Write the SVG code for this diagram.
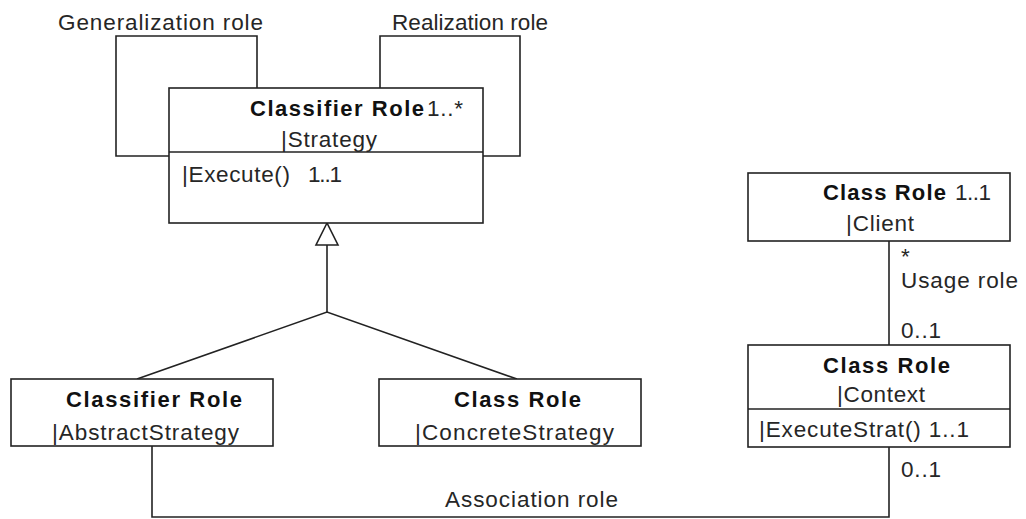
<svg xmlns="http://www.w3.org/2000/svg" width="1026" height="519" viewBox="0 0 1026 519">
  <style>
    .box { fill: #ffffff; stroke: #222222; stroke-width: 1.6; }
    .div { stroke: #222222; stroke-width: 1.6; }
    .wire { fill: none; stroke: #222222; stroke-width: 1.6; }
    .t { font-family: "Liberation Sans", Arial, sans-serif; font-size: 22.5px; fill: #262626; }
    .b { font-family: "Liberation Sans", Arial, sans-serif; font-size: 22px; font-weight: bold; fill: #111111; }
  </style>
  <rect width="1026" height="519" fill="#ffffff"/>

  <!-- connectors -->
  <g id="connectors">
    <!-- self loops on the Strategy role -->
    <polyline class="wire" points="257,88 257,36 116,36 116,156 169,156"/>
    <polyline class="wire" points="380,88 380,36 520,36 520,156 483,156"/>
    <!-- generalization tree -->
    <line class="wire" x1="327" y1="245" x2="327" y2="312"/>
    <polyline class="wire" points="137,379 327,312 517,379"/>
    <polygon points="327,223 316,245 338,245" fill="#ffffff" stroke="#222222" stroke-width="1.6"/>
    <!-- usage between Client and Context -->
    <line class="wire" x1="889" y1="241" x2="889" y2="345"/>
    <!-- association between AbstractStrategy and Context -->
    <polyline class="wire" points="152,446 152,517 889,517 889,447"/>
  </g>

  <!-- connector labels -->
  <g id="labels">
    <text class="t" x="58" y="30" textLength="205">Generalization role</text>
    <text class="t" x="392" y="30" textLength="156">Realization role</text>
    <text class="t" x="901" y="264">*</text>
    <text class="t" x="901" y="288" textLength="117">Usage role</text>
    <text class="t" x="901" y="338" textLength="40">0..1</text>
    <text class="t" x="901" y="477" textLength="40">0..1</text>
    <text class="t" x="445" y="507" textLength="173">Association role</text>
  </g>

  <!-- Strategy -->
  <g id="strategy">
    <rect class="box" x="169" y="88" width="314" height="135"/>
    <line class="div" x1="169" y1="152" x2="483" y2="152"/>
    <text class="b" x="250" y="116" textLength="174">Classifier Role</text>
    <text class="t" x="427" y="116" textLength="36">1..*</text>
    <text class="t" x="281" y="147" textLength="96">|Strategy</text>
    <text class="t" x="182" y="182" textLength="108">|Execute()</text>
    <text class="t" x="308" y="182" textLength="34">1..1</text>
  </g>

  <!-- AbstractStrategy -->
  <g id="abstract-strategy">
    <rect class="box" x="11" y="379" width="262" height="67"/>
    <text class="b" x="66" y="407" textLength="176">Classifier Role</text>
    <text class="t" x="52" y="440" textLength="187">|AbstractStrategy</text>
  </g>

  <!-- ConcreteStrategy -->
  <g id="concrete-strategy">
    <rect class="box" x="379" y="379" width="262" height="67"/>
    <text class="b" x="454" y="407" textLength="127">Class Role</text>
    <text class="t" x="415" y="440" textLength="199">|ConcreteStrategy</text>
  </g>

  <!-- Client -->
  <g id="client">
    <rect class="box" x="748" y="173" width="262" height="68"/>
    <text class="b" x="823" y="200" textLength="123">Class Role</text>
    <text class="t" x="955" y="200" textLength="36">1..1</text>
    <text class="t" x="846" y="231" textLength="68">|Client</text>
  </g>

  <!-- Context -->
  <g id="context">
    <rect class="box" x="748" y="345" width="262" height="102"/>
    <line class="div" x1="748" y1="409" x2="1010" y2="409"/>
    <text class="b" x="823" y="373" textLength="127">Class Role</text>
    <text class="t" x="837" y="402" textLength="88">|Context</text>
    <text class="t" x="759" y="437" textLength="210">|ExecuteStrat() 1..1</text>
  </g>
</svg>
